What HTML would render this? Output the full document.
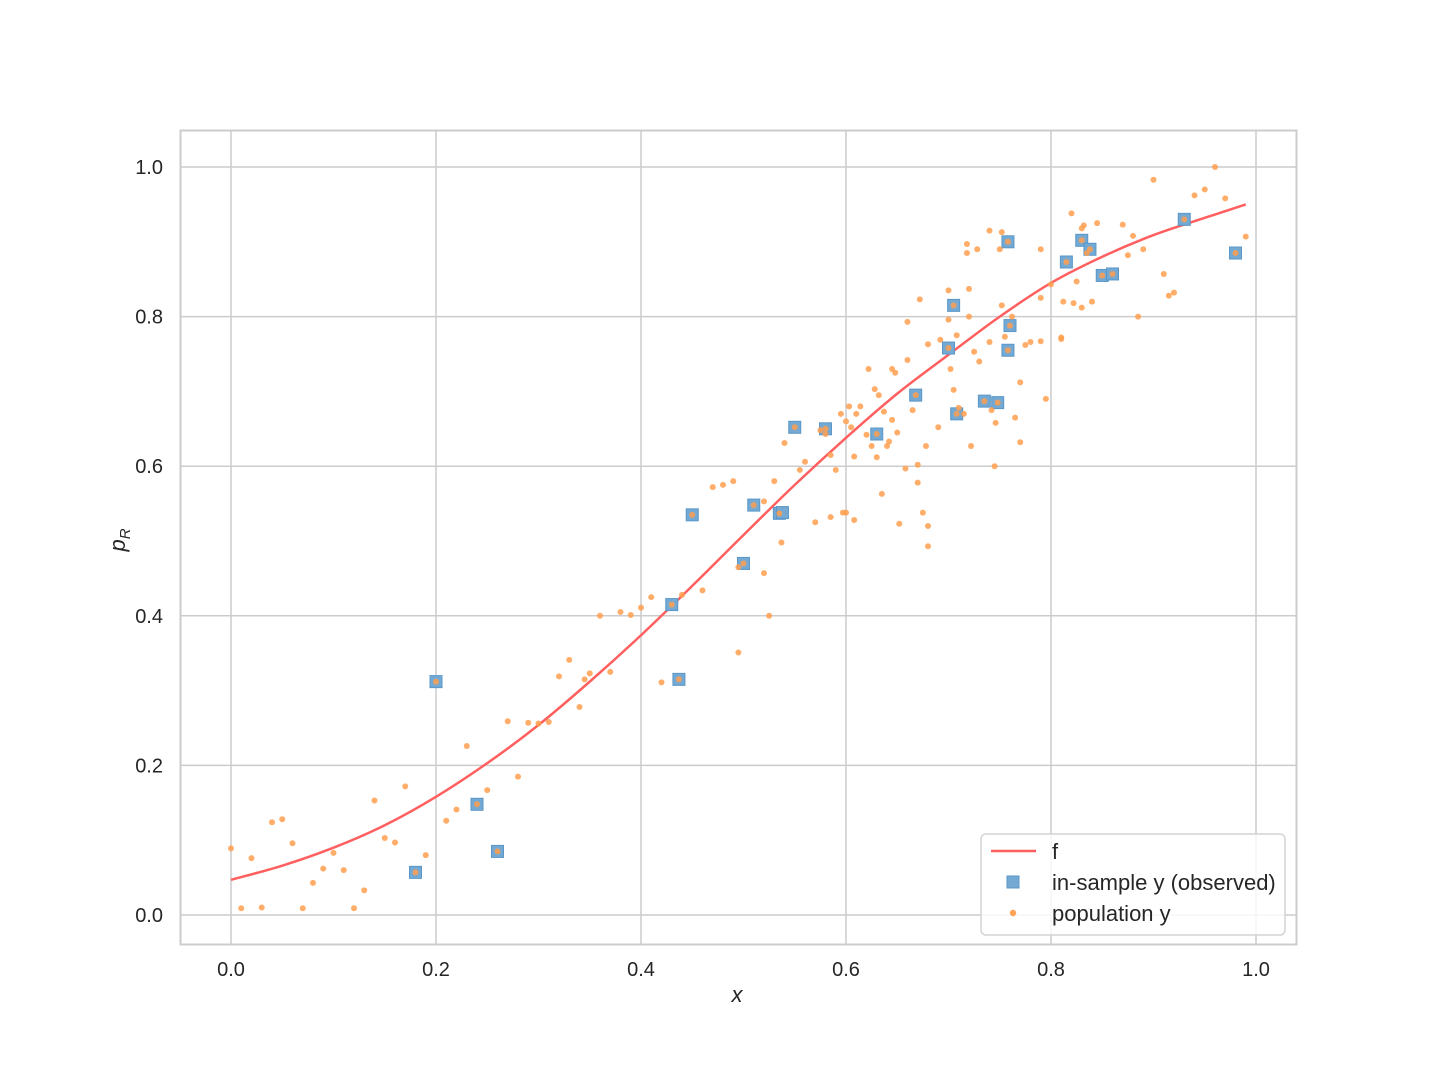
<!DOCTYPE html>
<html><head><meta charset="utf-8"><style>
body{margin:0;background:#fff}
svg{display:block;font-family:"Liberation Sans","DejaVu Sans",sans-serif}
</style></head><body>
<svg id="chart" width="1440" height="1080" viewBox="0 0 1440 1080">
<rect x="0" y="0" width="1440" height="1080" fill="#fff"/>
<g id="grid"></g>
<rect x="180.5" y="130.5" width="1116" height="814" fill="none" stroke="#cccccc" stroke-width="2"/>
<g id="ticks"></g>
<g id="marks"></g>
<text x="737" y="1002" font-size="22" font-style="italic" text-anchor="middle" fill="#262626">x</text>
<text transform="translate(125,540) rotate(-90)" font-size="22" font-style="italic" text-anchor="middle" fill="#262626">p<tspan font-size="15" dy="5">R</tspan></text>
<g>
<rect x="981" y="834" width="304" height="101" rx="5" fill="#fff" fill-opacity="0.8" stroke="#d3d3d3" stroke-width="1.5"/>
<line x1="991" y1="851" x2="1036" y2="851" stroke="#ff5f5f" stroke-width="2.5"/>
<text x="1052" y="859" font-size="22" fill="#262626">f</text>
<rect x="1007" y="876" width="12" height="12" fill="#73a9d3" stroke="#5a97c8" stroke-width="1"/>
<text x="1052" y="890" font-size="22" fill="#262626">in-sample y (observed)</text>
<circle cx="1013" cy="913" r="3.2" fill="#ffa357"/>
<text x="1052" y="921" font-size="22" fill="#262626">population y</text>
</g>
</svg>
<script>
const xTicks=[0,0.2,0.4,0.6,0.8,1.0];
const yTicks=[0,0.2,0.4,0.6,0.8,1.0];
const xTickLabels=["0.0","0.2","0.4","0.6","0.8","1.0"];
const yTickLabels=["0.0","0.2","0.4","0.6","0.8","1.0"];
const curveX=[0,0.05,0.1,0.15,0.2,0.25,0.3,0.35,0.4,0.45,0.5,0.55,0.6,0.65,0.7,0.75,0.8,0.85,0.9,0.95,0.99];
const curveY=[0.047,0.066,0.090,0.120,0.158,0.203,0.254,0.312,0.374,0.440,0.508,0.575,0.638,0.697,0.749,0.800,0.845,0.880,0.909,0.932,0.950];
const sampleX=[0.18,0.20,0.24,0.26,0.43,0.437,0.45,0.50,0.51,0.535,0.538,0.55,0.58,0.63,0.668,0.70,0.705,0.708,0.735,0.748,0.758,0.758,0.76,0.815,0.83,0.838,0.85,0.86,0.93,0.98];
const sampleY=[0.057,0.312,0.148,0.085,0.415,0.315,0.535,0.47,0.548,0.537,0.538,0.652,0.65,0.643,0.695,0.758,0.815,0.67,0.687,0.685,0.9,0.755,0.788,0.873,0.902,0.89,0.855,0.857,0.93,0.885];
const popX=[0,0.01,0.02,0.03,0.04,0.05,0.06,0.07,0.08,0.09,0.10,0.11,0.12,0.13,0.14,0.15,0.16,0.17,0.18,0.19,0.20,0.21,0.22,0.23,0.24,0.25,0.26,0.27,0.28,0.29,0.30,0.31,0.32,0.33,0.34,0.345,0.35,0.36,0.37,0.38,0.39,0.40,0.41,0.42,0.43,0.437,0.44,0.45,0.46,0.47,0.48,0.49,0.495,0.495,0.50,0.51,0.52,0.52,0.525,0.53,0.535,0.537,0.54,0.55,0.555,0.56,0.57,0.575,0.58,0.58,0.585,0.585,0.59,0.595,0.597,0.6,0.6,0.603,0.605,0.608,0.608,0.61,0.614,0.62,0.622,0.625,0.628,0.63,0.63,0.632,0.635,0.637,0.64,0.642,0.645,0.645,0.648,0.65,0.652,0.658,0.66,0.66,0.665,0.668,0.67,0.67,0.672,0.675,0.678,0.68,0.68,0.68,0.69,0.692,0.70,0.70,0.70,0.702,0.705,0.705,0.708,0.708,0.71,0.715,0.718,0.718,0.72,0.72,0.722,0.725,0.728,0.73,0.735,0.74,0.74,0.742,0.745,0.746,0.748,0.75,0.752,0.752,0.755,0.758,0.758,0.76,0.762,0.765,0.77,0.77,0.775,0.78,0.79,0.79,0.79,0.795,0.8,0.81,0.812,0.815,0.82,0.822,0.825,0.83,0.83,0.832,0.835,0.838,0.84,0.845,0.85,0.86,0.87,0.875,0.88,0.885,0.89,0.9,0.91,0.915,0.92,0.93,0.94,0.95,0.96,0.97,0.98,0.99,0.83,0.81];
const popY=[0.089,0.009,0.076,0.01,0.124,0.128,0.096,0.009,0.043,0.062,0.083,0.06,0.009,0.033,0.153,0.103,0.097,0.172,0.057,0.08,0.312,0.126,0.141,0.226,0.148,0.167,0.085,0.259,0.185,0.257,0.256,0.258,0.319,0.341,0.278,0.315,0.323,0.4,0.325,0.405,0.401,0.411,0.425,0.311,0.415,0.315,0.428,0.535,0.434,0.572,0.575,0.58,0.351,0.465,0.47,0.548,0.553,0.457,0.4,0.58,0.537,0.498,0.631,0.652,0.595,0.606,0.525,0.648,0.65,0.643,0.532,0.615,0.595,0.67,0.538,0.538,0.66,0.68,0.652,0.613,0.528,0.67,0.68,0.642,0.73,0.627,0.703,0.643,0.612,0.695,0.563,0.673,0.627,0.633,0.662,0.73,0.725,0.645,0.523,0.597,0.742,0.793,0.675,0.695,0.602,0.578,0.823,0.538,0.627,0.52,0.493,0.763,0.652,0.769,0.835,0.796,0.758,0.73,0.815,0.702,0.775,0.67,0.678,0.67,0.897,0.885,0.8,0.837,0.627,0.753,0.89,0.74,0.687,0.915,0.766,0.675,0.6,0.658,0.685,0.89,0.913,0.815,0.773,0.9,0.755,0.788,0.8,0.665,0.632,0.712,0.762,0.766,0.825,0.767,0.89,0.69,0.843,0.77,0.82,0.873,0.938,0.818,0.847,0.902,0.918,0.922,0.885,0.89,0.82,0.925,0.855,0.857,0.923,0.882,0.908,0.8,0.89,0.983,0.857,0.828,0.832,0.93,0.962,0.97,1.0,0.958,0.885,0.907,0.812,0.772];

const NS="http://www.w3.org/2000/svg";
const sx=v=>231+v*1025;
const sy=v=>915-v*748;
function mk(tag,attrs,parent){const e=document.createElementNS(NS,tag);for(const k in attrs)e.setAttribute(k,attrs[k]);parent.appendChild(e);return e;}
const grid=document.getElementById('grid'),ticks=document.getElementById('ticks'),marks=document.getElementById('marks');
xTicks.forEach((t,i)=>{
  const l=mk('line',{x1:sx(t),x2:sx(t),y1:131,y2:944,stroke:'#cccccc','stroke-width':1.5},grid);
  
  
  const tx=mk('text',{x:sx(t),y:976,'font-size':20,'text-anchor':'middle',fill:'#262626'},ticks);
  tx.textContent=xTickLabels[i];
  
  
});
yTicks.forEach((t,i)=>{
  const l=mk('line',{x1:181,x2:1296,y1:sy(t),y2:sy(t),stroke:'#cccccc','stroke-width':1.5},grid);
  
  
  const tx=mk('text',{x:163,y:sy(t)+7,'font-size':20,'text-anchor':'end',fill:'#262626'},ticks);
  tx.textContent=yTickLabels[i];
  
  
});
let pts=curveX.map((x,i)=>[sx(x),sy(curveY[i])]);
let d='M'+pts[0][0]+','+pts[0][1];
for(let i=0;i<pts.length-1;i++){
  const p0=pts[Math.max(0,i-1)],p1=pts[i],p2=pts[i+1],p3=pts[Math.min(pts.length-1,i+2)];
  const c1=[p1[0]+(p2[0]-p0[0])/6,p1[1]+(p2[1]-p0[1])/6],c2=[p2[0]-(p3[0]-p1[0])/6,p2[1]-(p3[1]-p1[1])/6];
  d+=' C'+c1+' '+c2+' '+p2;
}
const cv=mk('path',{d:d,fill:'none',stroke:'#ff5f5f','stroke-width':2.5},marks);


sampleX.forEach((x,i)=>{
  const r=mk('rect',{x:sx(x)-6,y:sy(sampleY[i])-6,width:12,height:12,fill:'#73a9d3',stroke:'#5a97c8','stroke-width':1},marks);
  
  
});
popX.forEach((x,i)=>{
  const c=mk('circle',{cx:sx(x),cy:sy(popY[i]),r:3,fill:'#ff9f4f','fill-opacity':0.85},marks);
  
  
});
</script>
</body></html>
